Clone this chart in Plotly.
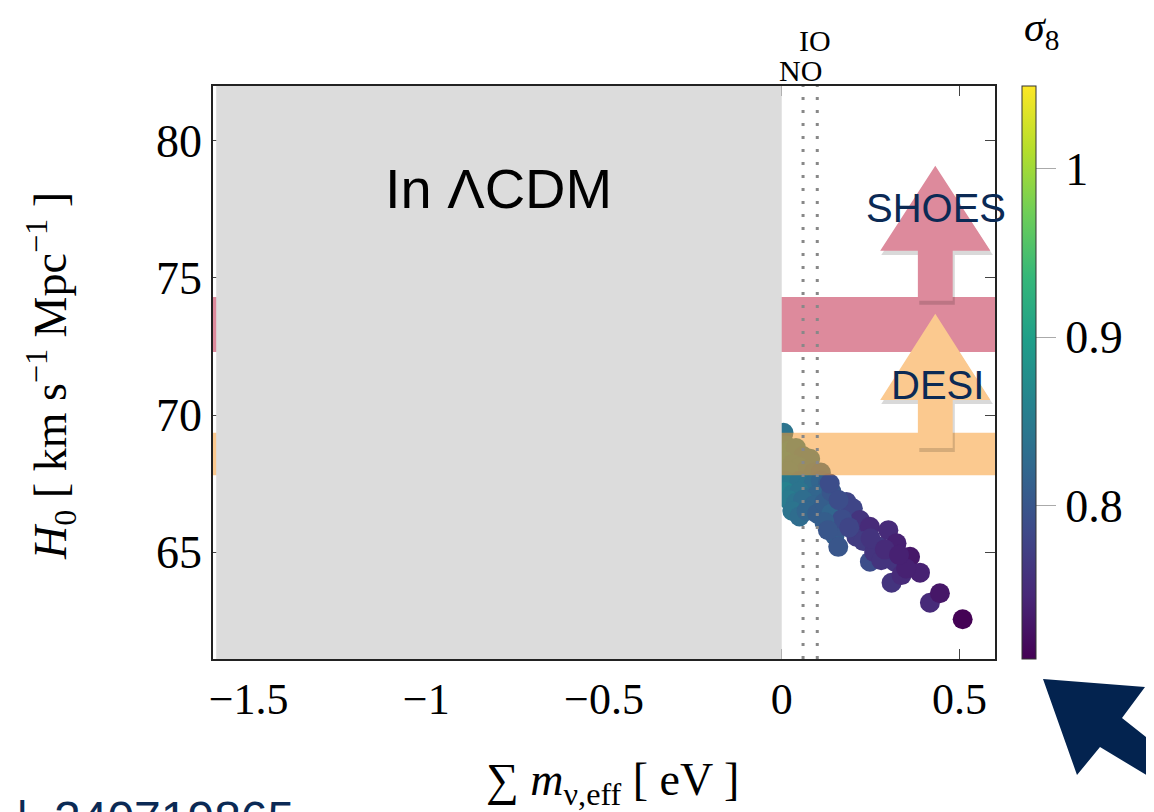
import plotly.graph_objects as go

# ---- data ----
mnu = [0.005, 0.01, 0.02, 0.04, 0.06, 0.08, 0.01, 0.03, 0.05, 0.07, 0.09, 0.02, 0.11,
       0.01, 0.03, 0.05, 0.07, 0.09, 0.11, 0.13, 0.01, 0.03, 0.05, 0.08, 0.10, 0.02, 0.04,
       0.06, 0.09, 0.03, 0.05, 0.07, 0.10, 0.12, 0.14,
       0.135, 0.14, 0.149, 0.159, 0.163, 0.182, 0.20, 0.21, 0.22, 0.248, 0.248, 0.276,
       0.30, 0.318, 0.323, 0.309, 0.337, 0.361, 0.389, 0.417, 0.445, 0.509,
       0.17, 0.19, 0.23, 0.26, 0.28, 0.35, 0.16, 0.12, 0.13, 0.25, 0.29, 0.33]
h0 = [69.35, 68.9, 68.7, 68.8, 68.5, 68.4, 68.3, 68.2, 68.1, 68.0, 67.9, 67.95, 67.9,
      67.6, 67.5, 67.6, 67.4, 67.5, 67.6, 67.5, 67.2, 67.1, 67.2, 67.0, 67.1, 66.9, 66.8,
      66.9, 66.7, 66.5, 66.3, 66.5, 66.4, 66.8, 67.2,
      67.5, 66.41, 65.62, 65.19, 65.92, 66.83, 66.6, 65.56, 66.17, 65.92, 64.65, 65.19,
      65.8, 64.65, 65.32, 63.88, 64.16, 64.83, 64.25, 63.15, 63.5, 62.55,
      66.2, 65.9, 65.4, 65.0, 64.7, 64.4, 66.9, 66.1, 65.8, 65.5, 65.1, 64.9]
sigma8 = [0.84, 0.86, 0.87, 0.86, 0.85, 0.85, 0.87, 0.86, 0.86, 0.85, 0.84, 0.86, 0.83,
          0.85, 0.85, 0.84, 0.84, 0.83, 0.82, 0.81, 0.86, 0.85, 0.84, 0.83, 0.82, 0.85, 0.84,
          0.83, 0.82, 0.84, 0.83, 0.82, 0.81, 0.81, 0.80,
          0.79, 0.82, 0.81, 0.80, 0.80, 0.78, 0.78, 0.77, 0.76, 0.75, 0.79, 0.77,
          0.75, 0.76, 0.74, 0.76, 0.75, 0.73, 0.74, 0.75, 0.73, 0.71,
          0.79, 0.78, 0.77, 0.76, 0.76, 0.74, 0.79, 0.81, 0.80, 0.76, 0.75, 0.74]

x_ticks = [-1.5, -1, -0.5, 0, 0.5]
x_ticktext = ["−1.5", "−1", "−0.5", "0", "0.5"]
y_ticks = [65, 70, 75, 80]
cb_ticks = [0.8, 0.9, 1.0]
cb_ticktext = ["0.8", "0.9", "1"]
x_range = [-1.6, 0.6]
y_range = [61.1, 82.0]
c_range = [0.709, 1.049]
ordering_lines = {"NO": 0.06, "IO": 0.10}
shoes_band = [72.3, 74.3]
desi_band = [67.8, 69.35]

SERIF = "Liberation Serif"
SANS = "Liberation Sans"
NAVY = "#0b2a55"
PINK = "#dd8a9c"
ORANGE = "#fbc98f"

# page body has an 8px margin: plot area sits at screen x 213..995, y 86..659
W, H = 1146, 804
L, T, PW, PH = 205, 78, 782, 573


def px(xp, yp):
    """screen pixel -> paper coordinate"""
    return (xp - 213) / PW, (659 - yp) / PH


fig = go.Figure()
fig.add_trace(go.Scatter(
    x=mnu, y=h0, mode="markers",
    marker=dict(size=20, color=sigma8, colorscale="Viridis", cmin=c_range[0], cmax=c_range[1],
                line=dict(width=0), opacity=1,
                colorbar=dict(thickness=14, len=1, lenmode="fraction", y=0.5, yanchor="middle",
                              x=px(1022, 0)[0], xanchor="left", xpad=0, ypad=0,
                              outlinecolor="#333", outlinewidth=1,
                              tickvals=cb_ticks, ticktext=cb_ticktext,
                              ticks="outside", ticklen=20, tickcolor="#aaa",
                              tickfont=dict(family=SERIF, size=46, color="black"))),
    showlegend=False, hoverinfo="skip"))

shapes = []
shapes.append(dict(type="rect", xref="x", yref="y", x0=x_range[0], x1=x_range[1],
                   y0=shoes_band[0], y1=shoes_band[1], fillcolor=PINK, line_width=0,
                   layer="above", opacity=1))
# translucent band: looks light orange over white, brownish over the points
shapes.append(dict(type="rect", xref="x", yref="y", x0=x_range[0], x1=x_range[1],
                   y0=desi_band[0], y1=desi_band[1], fillcolor="rgb(248,157,51)", line_width=0,
                   layer="above", opacity=0.55))
shapes.append(dict(type="rect", xref="x", yref="y", x0=-1.591, x1=0,
                   y0=y_range[0], y1=y_range[1], fillcolor="#dcdcdc", line_width=0,
                   layer="above"))
for v in ordering_lines.values():
    shapes.append(dict(type="line", xref="x", yref="y", x0=v, x1=v, y0=y_range[0], y1=y_range[1],
                       line=dict(color="#888", width=3, dash="3px,10px"), layer="above"))


def arrow_path(xc, tip, base, bottom, hw, sw):
    return (f"M {xc-sw},{bottom} L {xc+sw},{bottom} L {xc+sw},{base} L {xc+hw},{base} "
            f"L {xc},{tip} L {xc-hw},{base} L {xc-sw},{base} Z")


for (tip, base, bottom, col) in [(79.09, 75.99, 74.17, PINK), (73.69, 70.55, 68.8, ORANGE)]:
    shapes.append(dict(type="path", xref="x", yref="y",
                       path=arrow_path(0.437, tip - 0.15, base - 0.15, bottom - 0.15, 0.157, 0.05),
                       fillcolor="rgba(0,0,0,0.15)", line_width=0, layer="above"))
    shapes.append(dict(type="path", xref="x", yref="y",
                       path=arrow_path(0.432, tip, base, bottom, 0.155, 0.049),
                       fillcolor=col, line_width=0, layer="above"))

pts = [px(1043, 679), px(1145, 687), px(1122, 718), px(1175, 760), px(1158, 782),
       px(1100, 747), px(1077, 775)]
path = "M " + " L ".join(f"{a},{b}" for a, b in pts) + " Z"
shapes.append(dict(type="path", xref="paper", yref="paper", path=path,
                   fillcolor="#03234f", line_width=0))


def ann(x, y, text, size, family, color="black", xref="paper", yref="paper", **kw):
    d = dict(x=x, y=y, xref=xref, yref=yref, text=text, showarrow=False,
             xanchor=kw.pop("xanchor", "center"), yanchor=kw.pop("yanchor", "middle"),
             font=dict(family=family, size=size, color=color))
    d.update(kw)
    return d


annotations = [
    ann(-0.797, 78.25, "In ΛCDM", 56, SANS, xref="x", yref="y"),
    ann(0.433, 77.55, "SHOES", 40, SANS, NAVY, xref="x", yref="y"),
    ann(0.438, 71.09, "DESI", 40, SANS, NAVY, xref="x", yref="y"),
    ann(ordering_lines["NO"] - 0.006, px(0, 70)[1], "NO", 30, SERIF, xref="x"),
    ann(ordering_lines["IO"] - 0.007, px(0, 40)[1], "IO", 30, SERIF, xref="x"),
    ann(px(1041, 0)[0], px(0, 30)[1], "<i>σ</i><sub>8</sub>", 42, SERIF),
    ann(px(612, 0)[0], px(0, 783)[1], "∑ <i>m</i><sub>ν,eff</sub> [ eV ]", 46, SERIF),
    ann(px(50, 0)[0], px(0, 376)[1], "<i>H</i><sub>0</sub> [ km s<sup>−1</sup> Mpc<sup>−1</sup> ]",
        46, SERIF, textangle=-90),
    ann(px(22, 0)[0], px(0, 790)[1], "|", 48, SANS, NAVY, yanchor="top"),
    ann(px(52, 0)[0], px(0, 790)[1], "240719865", 48, SANS, NAVY, xanchor="left", yanchor="top"),
]

fig.update_layout(
    width=W, height=H,
    margin=dict(l=L, r=W - L - PW, t=T, b=H - T - PH, autoexpand=False),
    paper_bgcolor="white", plot_bgcolor="white",
    shapes=shapes, annotations=annotations,
    xaxis=dict(range=x_range, tickvals=x_ticks, ticktext=x_ticktext,
               ticks="inside", ticklen=10, tickcolor="#444", showgrid=False, zeroline=False,
               showline=True, linecolor="#222", linewidth=1.5, mirror="ticks",
               tickfont=dict(family=SERIF, size=44, color="black")),
    yaxis=dict(range=y_range, tickvals=y_ticks,
               ticks="inside", ticklen=10, tickcolor="#444", showgrid=False, zeroline=False,
               showline=True, linecolor="#222", linewidth=1.5, mirror="ticks",
               tickfont=dict(family=SERIF, size=46, color="black")),
)

fig.write_html("out.html")
